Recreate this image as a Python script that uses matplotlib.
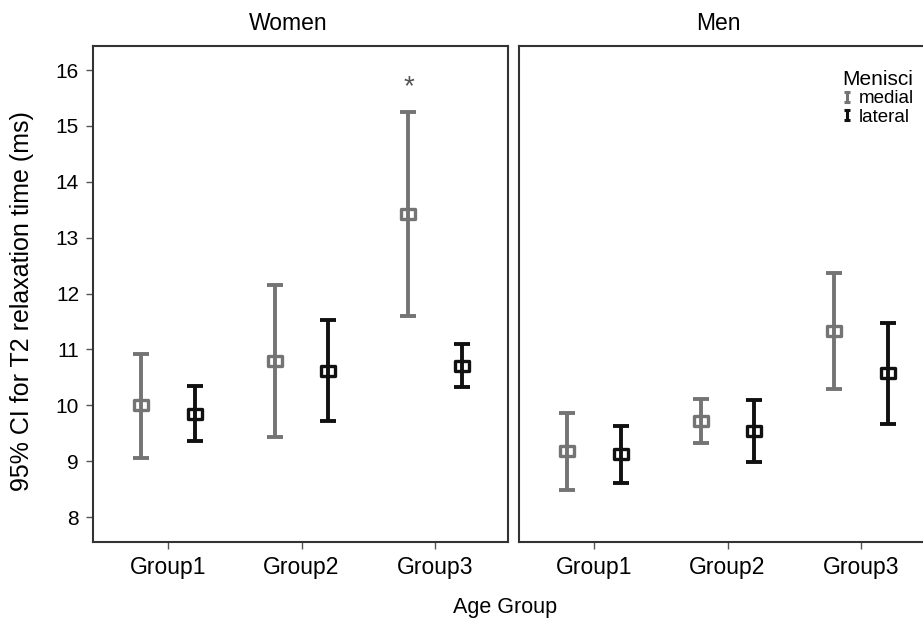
import matplotlib.pyplot as plt
from matplotlib.path import Path
from matplotlib.lines import Line2D

plt.rcParams['font.family'] = ['Liberation Sans', 'DejaVu Sans']

groups = ['Group1', 'Group2', 'Group3']
panels = ['Women', 'Men']

# mean, lower, upper of 95% CI (ms)
women_medial = [10.0, 10.80, 13.42]
women_medial_lo = [9.06, 9.43, 11.60]
women_medial_hi = [10.92, 12.15, 15.24]
women_lateral = [9.84, 10.62, 10.71]
women_lateral_lo = [9.36, 9.72, 10.32]
women_lateral_hi = [10.34, 11.53, 11.09]

men_medial = [9.18, 9.72, 11.33]
men_medial_lo = [8.48, 9.33, 10.29]
men_medial_hi = [9.87, 10.11, 12.36]
men_lateral = [9.12, 9.54, 10.58]
men_lateral_lo = [8.61, 8.99, 9.67]
men_lateral_hi = [9.63, 10.09, 11.48]

data = {
    'Women': [(women_medial, women_medial_lo, women_medial_hi),
              (women_lateral, women_lateral_lo, women_lateral_hi)],
    'Men': [(men_medial, men_medial_lo, men_medial_hi),
            (men_lateral, men_lateral_lo, men_lateral_hi)],
}
colors = ['#747474', '#111111']
offset = 0.2

box = Path([(-1.4, -1), (1.4, -1), (1.4, 1), (-1.4, 1), (-1.4, -1)],
           [Path.MOVETO, Path.LINETO, Path.LINETO, Path.LINETO, Path.CLOSEPOLY])
ibar = Path([(-0.6, 1), (0.6, 1), (0, 1), (0, -1), (-0.6, -1), (0.6, -1)],
            [Path.MOVETO, Path.LINETO, Path.MOVETO, Path.LINETO, Path.MOVETO, Path.LINETO])

fig = plt.figure(figsize=(9.23, 6.25), dpi=100)
W, H = 923, 625
axes = []
for i, (name, x0) in enumerate(zip(panels, [93, 519])):
    ax = fig.add_axes([x0 / W, 1 - 542 / H, 415 / W, (542 - 46) / H])
    axes.append(ax)
    for j, (m, lo, hi) in enumerate(data[name]):
        xs = [k + 1 + (j * 2 - 1) * offset for k in range(3)]
        err = [[a - b for a, b in zip(m, lo)], [c - a for a, c in zip(m, hi)]]
        ax.errorbar(xs, m, yerr=err, fmt='none', ecolor=colors[j],
                    elinewidth=2.8, capsize=5.5, capthick=2.8)
        ax.plot(xs, m, linestyle='none', marker=box, markersize=10.5,
                markerfacecolor='none', markeredgecolor=colors[j],
                markeredgewidth=2.4)
    ax.set_xlim(0.44, 3.545)
    ax.set_ylim(7.553, 16.43)
    ax.set_xticks([1, 2, 3])
    ax.set_xticklabels(groups, fontsize=16.5)
    ax.set_yticks(range(8, 17))
    ax.tick_params(direction='out', length=5, width=1, color='#555555', pad=5)
    ax.tick_params(axis='y', labelsize=15)
    for s in ax.spines.values():
        s.set_color('#333333')
        s.set_linewidth(1.5)
    if i == 1:
        ax.tick_params(axis='y', left=False, labelleft=False)
        ax.spines['right'].set_visible(False)

axes[0].text(3 - offset, 15.7, '*', ha='center', va='center',
             fontsize=20, color='#555555')

fig.text(288 / W, 1 - 23 / H, 'Women', ha='center', va='center', fontsize=16.5)
fig.text(718 / W, 1 - 23 / H, 'Men', ha='center', va='center', fontsize=16.5)
fig.text(22 / W, 1 - 301 / H, '95% CI for T2 relaxation time (ms)',
         rotation=90, ha='center', va='center', fontsize=18)
fig.text(505 / W, 1 - 607 / H, 'Age Group', ha='center', va='center', fontsize=15.5)

handles = [Line2D([], [], linestyle='none', marker=ibar, markersize=7,
                  markeredgewidth=2.2, markeredgecolor=c, markerfacecolor='none')
           for c in colors]
leg = axes[1].legend(handles, ['medial', 'lateral'], title='Menisci',
                     loc='upper right', bbox_to_anchor=(923 / W, 1 - 61 / H),
                     bbox_transform=fig.transFigure, frameon=False,
                     fontsize=13.5, title_fontsize=15, handlelength=0.6,
                     handletextpad=0.3, labelspacing=0.05, borderpad=0,
                     alignment='right')

fig.savefig('out.png', dpi=100)
